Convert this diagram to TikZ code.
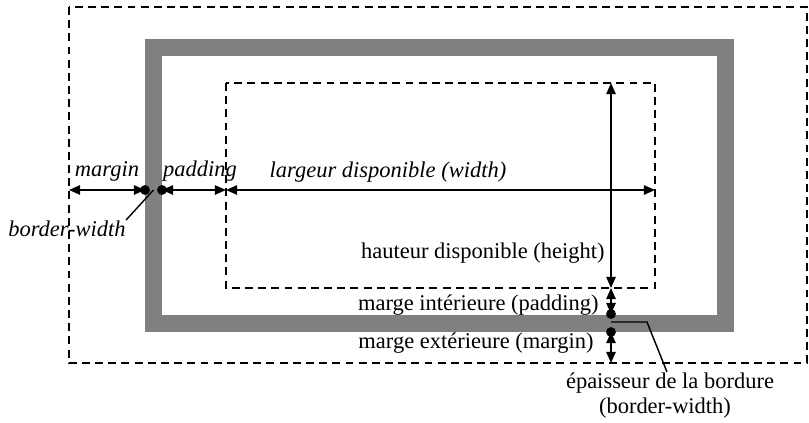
\documentclass[tikz,border=0pt]{standalone}
\usepackage{fontspec}
\setmainfont{Liberation Serif}
\usetikzlibrary{arrows.meta}
\definecolor{borderGray}{RGB}{128,128,128}

\begin{document}
\begin{tikzpicture}[x=0.02cm,y=-0.02cm,
	frame/.style={line width=1.2pt, dash pattern=on 4.5pt off 3pt},
	dim/.style={{Triangle[length=6.4pt,width=5.4pt]}-{Triangle[length=6.4pt,width=5.4pt]}, line width=0.9pt},
	dot/.style={circle, fill=black, inner sep=0pt, minimum size=5.6pt},
	lbl/.style={font=\fontsize{12.8}{15}\selectfont, inner sep=0pt},
	leader/.style={line width=0.8pt}]
	\useasboundingbox (0,0) rectangle (809,423);

	% boxes
	\draw[frame] (69,7) rectangle (807,363);
	\draw[line width=9.6pt, borderGray] (153.5,47.5) rectangle (725.5,323.5);
	\draw[frame] (226,83) rectangle (655,288);

	% horizontal measures
	\coordinate (mL) at (69,190);
	\coordinate (bL) at (145,190);
	\coordinate (bLi) at (162,190);
	\coordinate (cL) at (226,190);
	\coordinate (cR) at (655,190);
	\coordinate (bLm) at (153.5,190);

	\draw[dim] (mL) -- (bL);
	\draw[dim] (bLi) -- (cL);
	\draw[dim] (cL) -- (cR);
	\node[dot] (dL1) at (bL) {};
	\node[dot] (dL2) at (bLi) {};

	% vertical measures
	\coordinate (cT) at (611,83);
	\coordinate (cB) at (611,288);
	\coordinate (bBi) at (611,314);
	\coordinate (bB) at (611,332);
	\coordinate (mB) at (611,363);
	\coordinate (bBm) at (611,322);
	\coordinate (kink) at (647,322);

	\draw[dim] (cT) -- (cB);
	\draw[dim] (cB) -- (bBi);
	\draw[dim] (bB) -- (mB);
	\node[dot] (dB1) at (bBi) {};
	\node[dot] (dB2) at (bB) {};

	% labels
	\node[lbl, font=\fontsize{12.8}{15}\selectfont\itshape, anchor=base] (lMargin) at (107,176) {margin};
	\node[lbl, font=\fontsize{12.8}{15}\selectfont\itshape, anchor=base] (lPadding) at (200,176) {padding};
	\node[lbl, font=\fontsize{12.8}{15}\selectfont\itshape, anchor=base] (lWidth) at (388,177) {largeur disponible (width)};
	\node[lbl, font=\fontsize{12.8}{15}\selectfont\itshape, anchor=base] (bwL) at (67,236) {border-width};
	\node[lbl, anchor=base east] (lHeight) at (605,258) {hauteur disponible (height)};
	\node[lbl, anchor=base east] (lPadIn) at (599,310) {marge intérieure (padding)};
	\node[lbl, anchor=base east] (lMarOut) at (594,348) {marge extérieure (margin)};
	\node[lbl, anchor=base] (bwR) at (670,388) {épaisseur de la bordure};
	\node[lbl, anchor=base] (bwR2) at (665,413) {(border-width)};

	% leaders
	\draw[leader] (bLm) -- (bwL.north east);
	\draw[leader] (bBm) -- (kink) -- (bwR.north -| 667,0);
\end{tikzpicture}
\end{document}
